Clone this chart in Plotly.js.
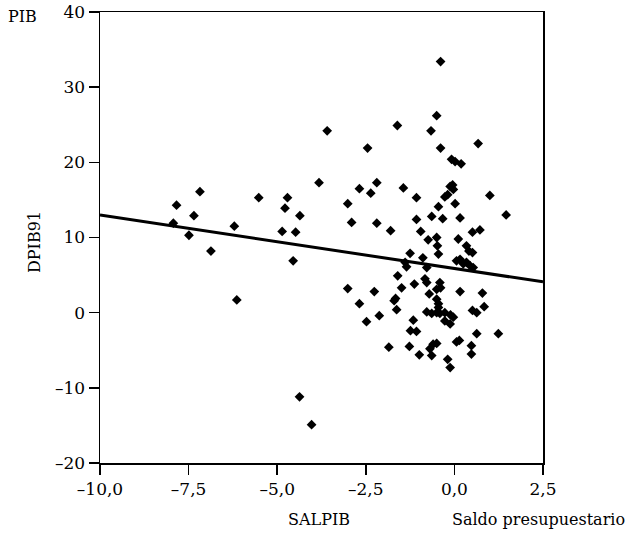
<!DOCTYPE html>
<html><head><meta charset="utf-8">
<script src="https://cdn.plot.ly/plotly-3.0.1.min.js"></script>
<style>body{margin:0;background:#fff}#chart{width:630px;height:543px}</style>
</head><body><div id="chart"></div>
<script>
const salpib = [-7.84,-7.18,-7.35,-7.93,-7.49,-6.87,-6.21,-6.14,-5.52,-4.71,-4.78,-4.36,-4.86,-4.48,-4.55,-3.82,-4.37,-4.03,
-0.39,-0.50,-1.61,-0.66,-3.59,-2.45,-0.39,0.67,-0.08,0.02,0.19,-2.68,-2.19,-1.44,-0.12,-0.05,-2.36,-1.07,-0.03,-0.27,-0.19,-0.45,0.02,1.0,1.46,
-3.01,-2.9,-2.19,-1.80,-1.07,-0.64,-0.33,0.16,-0.95,-0.74,-0.50,-0.48,-0.45,0.11,0.51,0.72,0.34,0.41,0.51,
-1.25,-0.89,-1.39,-1.35,-0.78,0.06,0.16,0.25,0.34,0.44,0.53,-1.60,-1.49,-1.13,-0.83,-0.78,-0.41,-0.50,-0.39,-0.71,0.16,0.79,
-3.01,-2.26,-2.68,-1.66,-1.70,-1.63,-0.50,-0.45,-0.78,-0.64,-0.50,-0.41,-0.27,-0.11,-0.03,-0.45,0.51,0.63,0.84,
-2.12,-2.48,-1.16,-0.27,-0.12,-1.24,-1.07,0.63,1.24,0.06,0.14,0.48,0.48,-1.85,-1.27,-0.99,-0.60,-0.50,-0.69,-0.64,-0.19,-0.12];
const dpib91 = [14.3,16.1,12.9,11.9,10.3,8.2,11.5,1.7,15.3,15.3,13.9,12.9,10.8,10.7,6.9,17.3,-11.2,-14.9,
33.4,26.2,24.9,24.2,24.2,21.9,21.9,22.5,20.4,20.1,19.8,16.5,17.3,16.6,16.8,17.0,15.9,15.3,16.4,15.4,15.7,14.1,14.5,15.6,13.0,
14.5,12.0,11.9,10.9,12.4,12.8,12.5,12.6,10.8,9.7,10.0,8.9,7.8,9.8,10.7,11.0,8.9,8.2,8.0,
7.9,7.3,6.7,6.1,6.0,6.9,7.1,6.5,6.7,6.25,6.0,4.9,3.3,3.8,4.5,4.0,4.0,3.1,3.3,2.5,2.8,2.6,
3.2,2.8,1.2,1.9,1.6,0.4,1.8,1.2,0.1,-0.1,0.0,-0.1,0.0,-0.3,-0.6,0.7,0.3,0.0,0.8,
-0.4,-1.2,-1.0,-1.1,-1.5,-2.4,-2.5,-2.8,-2.8,-3.9,-3.7,-4.4,-5.5,-4.6,-4.5,-5.6,-4.2,-4.1,-4.8,-5.7,-6.2,-7.3];
const fitX = [-10, 2.5];
const fitY = [13.0, 4.1];
const xTickVals = [-10, -7.5, -5, -2.5, 0, 2.5];
const xTickText = ['\u201310,0', '\u20137,5', '\u20135,0', '\u20132,5', '0,0', '2,5'];
const yTickVals = [-20, -10, 0, 10, 20, 30, 40];
const yTickText = ['\u201320', '\u201310', '0', '10', '20', '30', '40'];

const font = {family: 'DejaVu Serif, Liberation Serif, serif', size: 17, color: '#000'};
const labelFont = {family: 'DejaVu Serif, Liberation Serif, serif', size: 16, color: '#000'};
const data = [
  {x: salpib, y: dpib91, mode: 'markers', type: 'scatter',
   marker: {symbol: 'diamond', size: 7.5, color: '#000'}, hoverinfo: 'skip'},
  {x: fitX, y: fitY, mode: 'lines', type: 'scatter',
   line: {color: '#000', width: 3}, hoverinfo: 'skip'}
];
const axisCommon = {showgrid: false, zeroline: false, showline: true, mirror: true,
  linecolor: '#000', linewidth: 1.5, ticks: 'outside', ticklen: 10, tickwidth: 1.5,
  tickcolor: '#000', tickfont: font, tickmode: 'array'};
const layout = {
  width: 630, height: 543,
  margin: {l: 100, r: 87, t: 12, b: 80},
  paper_bgcolor: '#fff', plot_bgcolor: '#fff',
  showlegend: false, font: font,
  xaxis: Object.assign({}, axisCommon, {range: [-10, 2.5], tickvals: xTickVals, ticktext: xTickText}),
  yaxis: Object.assign({}, axisCommon, {range: [-20, 40], tickvals: yTickVals, ticktext: yTickText}),
  annotations: [
    {text: 'PIB', xref: 'paper', yref: 'paper', x: -0.174, y: 0.99, xanchor: 'center', yanchor: 'middle', showarrow: false, font: labelFont},
    {text: 'DPIB91', xref: 'paper', yref: 'paper', x: -0.149, y: 0.49, textangle: -90, xanchor: 'center', yanchor: 'middle', showarrow: false, font: labelFont},
    {text: 'SALPIB', xref: 'paper', yref: 'paper', x: 0.494, y: -0.125, xanchor: 'center', yanchor: 'middle', showarrow: false, font: labelFont},
    {text: 'Saldo presupuestario', xref: 'paper', yref: 'paper', x: 1.19, y: -0.125, xanchor: 'right', yanchor: 'middle', showarrow: false, font: labelFont}
  ]
};
Plotly.newPlot('chart', data, layout, {staticPlot: true, displayModeBar: false});
</script></body></html>
